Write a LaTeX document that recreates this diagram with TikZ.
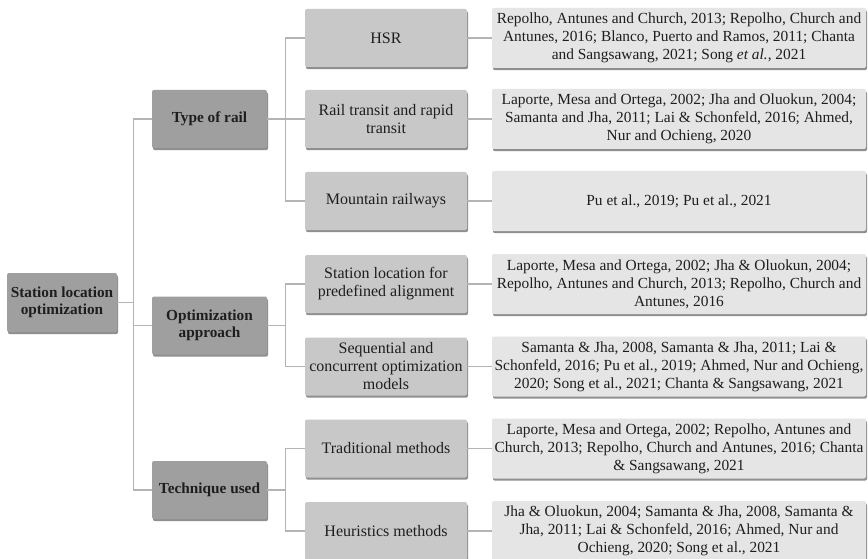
\documentclass[tikz,border=0pt]{standalone}
\usepackage{fontspec}
\setmainfont{Liberation Serif}
\usetikzlibrary{shadows}
\definecolor{lnc}{HTML}{B4B4B4}
\definecolor{darkbox}{HTML}{9F9F9F}
\definecolor{midbox}{HTML}{C8C8C8}
\definecolor{lightbox}{HTML}{E5E5E5}
\definecolor{txt}{HTML}{1E1E1E}
\tikzset{
  basebox/.style={rounded corners=2pt, inner sep=0pt, align=center, text=txt,
    drop shadow={shadow xshift=1pt, shadow yshift=-2.2pt, fill=black!55, opacity=0.8}},
  lvlzero/.style={basebox, fill=darkbox, minimum width=110pt, minimum height=59pt, font=\fontsize{15.3}{17.5}\selectfont\bfseries},
  lvlone/.style={basebox, fill=darkbox, minimum width=115pt, minimum height=58pt, font=\fontsize{15.3}{17.5}\selectfont\bfseries},
  lvltwo/.style={basebox, fill=midbox, minimum width=162pt, minimum height=58pt, font=\fontsize{16}{18}\selectfont},
  refbox/.style={basebox, fill=lightbox, minimum width=374pt, minimum height=60pt, font=\fontsize{15.4}{18}\selectfont},
  conn/.style={draw=lnc, line width=1.2pt}
}
\begin{document}
\begin{tikzpicture}[x=1pt,y=-1pt]
\useasboundingbox[fill=white] (0,0) rectangle (868,559);
\clip (0,0) rectangle (868,559);
% root
\node[lvlzero] (root) at (62,302.5) {Station location\\optimization};
% level 1
\node[lvlone] (type) at (209.5,119) {Type of rail};
\node[lvlone] (opt) at (209.5,325.5) {Optimization\\approach};
\node[lvlone] (tech) at (209.5,490) {Technique used};
% level 2
\node[lvltwo] (hsr) at (386,38) {HSR};
\node[lvltwo] (rail) at (386,119) {Rail transit and rapid\\transit};
\node[lvltwo] (mount) at (386,201) {Mountain railways};
\node[lvltwo] (stat) at (386,284) {Station location for\\predefined alignment};
\node[lvltwo] (seq) at (386,366.5) {Sequential and\\concurrent optimization\\models};
\node[lvltwo] (trad) at (386,448.5) {Traditional methods};
\node[lvltwo] (heur) at (386,531) {Heuristics methods};
% references
\node[refbox] (rhsr) at (679,38) {Repolho, Antunes and Church, 2013; Repolho, Church and\\Antunes, 2016; Blanco, Puerto and Ramos, 2011; Chanta\\and Sangsawang, 2021; Song \textit{et al.}, 2021};
\node[refbox] (rrail) at (679,119) {Laporte, Mesa and Ortega, 2002; Jha and Oluokun, 2004;\\Samanta and Jha, 2011; Lai \& Schonfeld, 2016; Ahmed,\\Nur and Ochieng, 2020};
\node[refbox] (rmount) at (679,201) {Pu et al., 2019; Pu et al., 2021};
\node[refbox] (rstat) at (679,284) {Laporte, Mesa and Ortega, 2002; Jha \& Oluokun, 2004;\\Repolho, Antunes and Church, 2013; Repolho, Church and\\Antunes, 2016};
\node[refbox] (rseq) at (679,366.5) {Samanta \& Jha, 2008, Samanta \& Jha, 2011; Lai \&\\Schonfeld, 2016; Pu et al., 2019; Ahmed, Nur and Ochieng,\\2020; Song et al., 2021; Chanta \& Sangsawang, 2021};
\node[refbox] (rtrad) at (679,448.5) {Laporte, Mesa and Ortega, 2002; Repolho, Antunes and\\Church, 2013; Repolho, Church and Antunes, 2016; Chanta\\\& Sangsawang, 2021};
\node[refbox] (rheur) at (679,531) {Jha \& Oluokun, 2004; Samanta \& Jha, 2008, Samanta \&\\Jha, 2011; Lai \& Schonfeld, 2016; Ahmed, Nur and\\Ochieng, 2020; Song et al., 2021};
% connectors
\draw[conn] (root.east) -- ++(16,0) |- (type.west);
\draw[conn] (root.east) -- ++(16,0) |- (opt.west);
\draw[conn] (root.east) -- ++(16,0) |- (tech.west);
\draw[conn] (type.east) -- ++(18,0) |- (hsr.west);
\draw[conn] (type.east) -- (rail.west);
\draw[conn] (type.east) -- ++(18,0) |- (mount.west);
\draw[conn] (opt.east) -- ++(18,0) |- (stat.west);
\draw[conn] (opt.east) -- ++(18,0) |- (seq.west);
\draw[conn] (tech.east) -- ++(18,0) |- (trad.west);
\draw[conn] (tech.east) -- ++(18,0) |- (heur.west);
\draw[conn] (hsr.east) -- (rhsr.west);
\draw[conn] (rail.east) -- (rrail.west);
\draw[conn] (mount.east) -- (rmount.west);
\draw[conn] (stat.east) -- (rstat.west);
\draw[conn] (seq.east) -- (rseq.west);
\draw[conn] (trad.east) -- (rtrad.west);
\draw[conn] (heur.east) -- (rheur.west);
\end{tikzpicture}
\end{document}
